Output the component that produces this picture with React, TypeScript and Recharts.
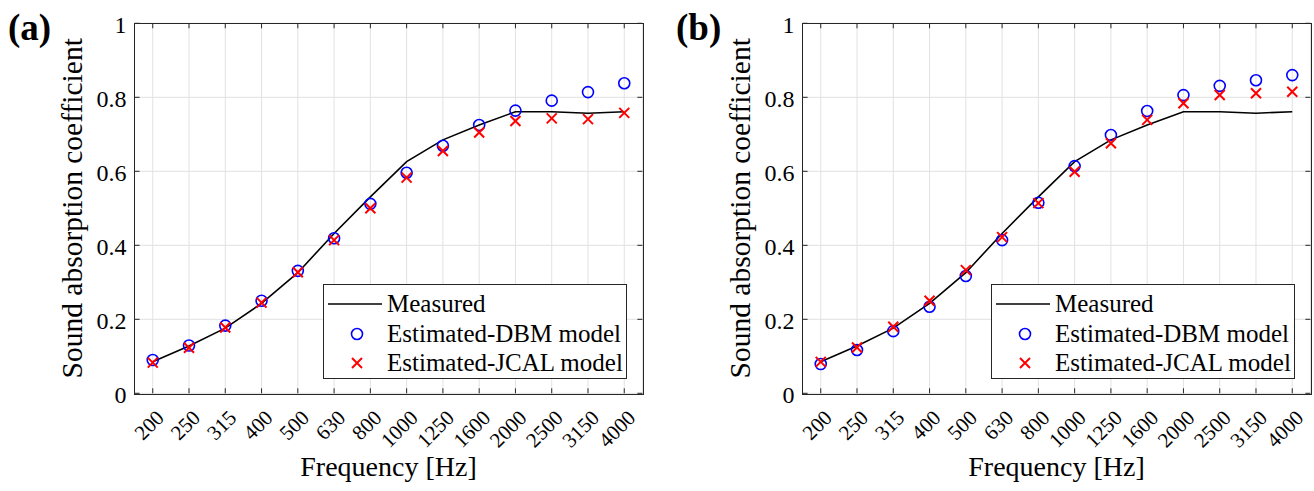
import React from "react";
import { LineChart, Line, XAxis, YAxis, CartesianGrid, Legend, Label } from "recharts";

// octave-band centre frequencies (Hz)
const FREQS = ["200", "250", "315", "400", "500", "630", "800", "1000", "1250", "1600", "2000", "2500", "3150", "4000"];
// measured absorption, same in both panels
const MEASURED = [0.085, 0.128, 0.176, 0.243, 0.326, 0.432, 0.531, 0.626, 0.685, 0.725, 0.761, 0.761, 0.757, 0.761];
// panel (a)
const DBM_A = [0.09, 0.129, 0.183, 0.25, 0.331, 0.419, 0.512, 0.596, 0.669, 0.725, 0.764, 0.791, 0.814, 0.838];
const JCAL_A = [0.083, 0.123, 0.178, 0.245, 0.327, 0.414, 0.5, 0.583, 0.655, 0.705, 0.736, 0.743, 0.741, 0.758];
// panel (b)
const DBM_B = [0.079, 0.117, 0.168, 0.234, 0.317, 0.414, 0.515, 0.614, 0.698, 0.763, 0.806, 0.831, 0.846, 0.86];
const JCAL_B = [0.085, 0.124, 0.18, 0.25, 0.333, 0.422, 0.514, 0.599, 0.676, 0.739, 0.784, 0.806, 0.811, 0.815];
const Y_TICKS = [0, 0.2, 0.4, 0.6, 0.8, 1];

const W = 646;
const H = 491;
const PLOT_L = 134.6;
const PLOT_R = 642.4;
const PLOT_T = 23.3;
const PLOT_B = 393.3;
const BAND = (PLOT_R - PLOT_L) / FREQS.length;
const FRAME = "#262626";
const FONT = "'Liberation Serif', 'Times New Roman', serif";

const XTick = (props: any) => {
  const { x, payload } = props;
  const ax = x + 12.5;
  const ay = 419;
  return (
    <g>
      <line x1={x} x2={x} y1={PLOT_B} y2={PLOT_B - 5} stroke={FRAME} />
      <line x1={x} x2={x} y1={PLOT_T} y2={PLOT_T + 5} stroke={FRAME} />
      <text
        x={ax}
        y={ay}
        transform={`rotate(-45 ${ax} ${ay})`}
        textAnchor="end"
        fontSize={21}
        fontFamily={FONT}
        fill="#000"
      >
        {payload.value}
      </text>
    </g>
  );
};

const YTick = (props: any) => {
  const { y, payload } = props;
  return (
    <g>
      <line x1={PLOT_L} x2={PLOT_L + 5} y1={y} y2={y} stroke={FRAME} />
      <line x1={PLOT_R} x2={PLOT_R - 5} y1={y} y2={y} stroke={FRAME} />
      <text x={PLOT_L - 8} y={y} dy="0.42em" textAnchor="end" fontSize={24} fontFamily={FONT} fill="#000">
        {String(payload.value)}
      </text>
    </g>
  );
};

const Circle = (props: any) => {
  const { cx, cy, index } = props;
  return <circle key={`c-${index}`} cx={cx} cy={cy} r={5.5} fill="none" stroke="#0000ff" strokeWidth={1.6} />;
};

const Cross = (props: any) => {
  const { cx, cy, index } = props;
  const s = 5;
  return (
    <path
      key={`x-${index}`}
      d={`M${cx - s},${cy - s}L${cx + s},${cy + s}M${cx - s},${cy + s}L${cx + s},${cy - s}`}
      stroke="#ff0000"
      strokeWidth={2}
      fill="none"
    />
  );
};

const LegendBox = () => {
  const row = (top: number, sym: React.ReactNode, text: string) => (
    <div style={{ position: "absolute", left: 0, top: top - 15, height: 30, width: "100%" }}>
      <svg width={62} height={30} style={{ position: "absolute", left: 0, top: 0 }}>
        {sym}
      </svg>
      <span style={{ position: "absolute", left: 63, top: 0, lineHeight: "30px", fontSize: 25, whiteSpace: "nowrap" }}>
        {text}
      </span>
    </div>
  );
  return (
    <div
      style={{
        position: "relative",
        width: 304,
        height: 95,
        boxSizing: "border-box",
        border: `1px solid ${FRAME}`,
        background: "#fff",
        fontFamily: FONT,
        color: "#000",
      }}
    >
      {row(19.3, <line x1={4} x2={58} y1={15} y2={15} stroke="#000" strokeWidth={1.6} />, "Measured")}
      {row(49.3, <circle cx={33} cy={15} r={5.5} fill="none" stroke="#0000ff" strokeWidth={1.6} />, "Estimated-DBM model")}
      {row(
        77.7,
        <path d="M28,10L38,20M28,20L38,10" stroke="#ff0000" strokeWidth={2} fill="none" />,
        "Estimated-JCAL model"
      )}
    </div>
  );
};

function Panel({ left, tag, dbm, jcal }: { left: number; tag: string; dbm: number[]; jcal: number[] }) {
  const rows = FREQS.map((f, i) => ({ f, measured: MEASURED[i], dbm: dbm[i], jcal: jcal[i] }));
  const midY = (PLOT_T + PLOT_B) / 2;
  return (
    <div style={{ position: "absolute", left, top: 0, width: W, height: H, fontFamily: FONT }}>
      <div
        style={{
          position: "absolute",
          left: 8,
          top: 8,
          fontSize: 37,
          fontWeight: "bold",
          lineHeight: "40px",
          fontFamily: FONT,
        }}
      >
        {tag}
      </div>
      <LineChart
        width={W}
        height={H}
        data={rows}
        margin={{ top: PLOT_T, right: W - PLOT_R, left: PLOT_L - 60, bottom: H - PLOT_B - 60 }}
      >
        <CartesianGrid stroke="#e2e2e2" />
        <XAxis
          dataKey="f"
          scale="point"
          padding={{ left: BAND / 2, right: BAND / 2 }}
          height={60}
          axisLine={false}
          tickLine={false}
          tick={<XTick />}
          interval={0}
        >
          <Label
            content={(p: any) => {
              const vb = p.viewBox;
              return (
                <text x={vb.x + vb.width / 2} y={476} textAnchor="middle" fontSize={28} fontFamily={FONT} fill="#000">
                  Frequency [Hz]
                </text>
              );
            }}
          />
        </XAxis>
        <YAxis
          type="number"
          domain={[0, 1]}
          ticks={Y_TICKS}
          width={60}
          axisLine={false}
          tickLine={false}
          tick={<YTick />}
          interval={0}
        >
          <Label
            content={() => (
              <text
                x={82}
                y={midY}
                transform={`rotate(-90 82 ${midY})`}
                textAnchor="middle"
                fontSize={29.5}
                fontFamily={FONT}
                fill="#000"
              >
                Sound absorption coefficient
              </text>
            )}
          />
        </YAxis>
        <Line dataKey="measured" stroke="#000" strokeWidth={1.6} dot={false} activeDot={false} isAnimationActive={false} />
        <Line dataKey="dbm" stroke="none" dot={<Circle />} activeDot={false} isAnimationActive={false} />
        <Line dataKey="jcal" stroke="none" dot={<Cross />} activeDot={false} isAnimationActive={false} />
        <Legend
          layout="vertical"
          align="center"
          verticalAlign="middle"
          wrapperStyle={{ left: 323, top: 284, width: 304, height: 95 }}
          content={() => <LegendBox />}
        />
      </LineChart>
      <div
        style={{
          position: "absolute",
          left: PLOT_L - 0.5,
          top: PLOT_T - 0.5,
          width: PLOT_R - PLOT_L,
          height: PLOT_B - PLOT_T,
          border: `1px solid ${FRAME}`,
          pointerEvents: "none",
        }}
      />
    </div>
  );
}

export default function App() {
  return (
    <div style={{ position: "absolute", left: 0, top: 0, width: 1314, height: 491, background: "#fff", overflow: "hidden" }}>
      <Panel left={0} tag="(a)" dbm={DBM_A} jcal={JCAL_A} />
      <Panel left={668} tag="(b)" dbm={DBM_B} jcal={JCAL_B} />
    </div>
  );
}
